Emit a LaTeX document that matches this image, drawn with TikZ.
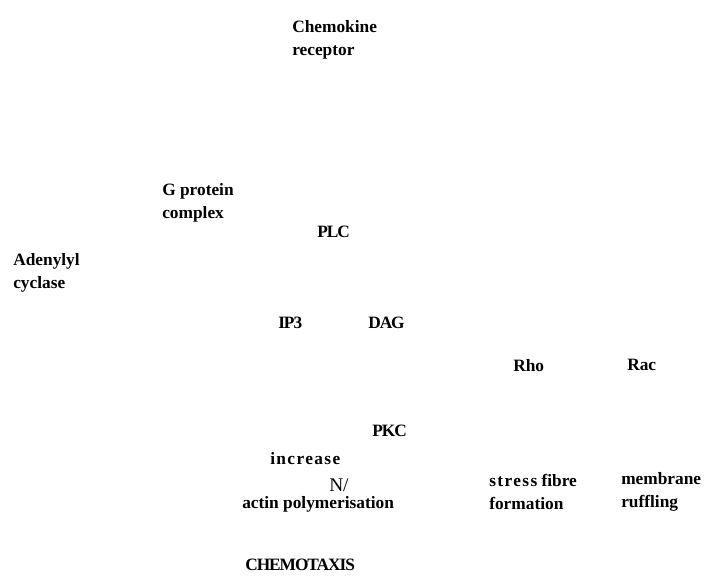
\documentclass[tikz,border=0pt]{standalone}
\usepackage{fontspec}
\setmainfont{Liberation Serif}
\usepackage{tikz}
\usetikzlibrary{positioning}

\begin{document}
\begin{tikzpicture}[x=0.75pt, y=-0.75pt,
  lab/.style={font=\fontsize{13}{17.5}\selectfont\bfseries, inner sep=0pt, align=left, anchor=north west},
  tight/.style={font=\fontsize{13}{17.5}\selectfont\bfseries\addfontfeatures{LetterSpace=-6}, inner sep=0pt, anchor=north west},
  wide/.style={font=\fontsize{13}{17.5}\selectfont\bfseries\addfontfeatures{LetterSpace=8}, inner sep=0pt, anchor=north west}]
\useasboundingbox (0,0) rectangle (707,575);
% receptor and membrane side
\node[lab] (receptor) at (292,20) {Chemokine\\receptor};
\node[lab] (gprot) at (162,183) {G protein\\complex};
\node[tight] (plc) at (317,226) {PLC};
\node[lab] (adenyl) at (13,253) {Adenylyl\\cyclase};
% second messengers
\node[tight] (ip3) at (278,317) {IP3};
\node[tight] (dag) at (368,317) {DAG};
\node[lab] (rho) at (513,359) {Rho};
\node[lab] (rac) at (627,359) {Rac};
\node[tight] (pkc) at (372,425) {PKC};
% responses
\node[wide] (incr) at (270,452) {increase};
\node[font=\fontsize{14.5}{17.5}\selectfont, inner sep=0pt, anchor=north west] (nslash) at (329,478) {N/};
\node[lab] (actin) at (242,496) {actin polymerisation};
\node[lab] (stress) at (489,474) {{\addfontfeatures{LetterSpace=8}stress} fibre\\formation};
\node[lab] (ruffle) at (621,472) {membrane\\ruffling};
\node[tight] (chemo) at (245,559) {CHEMOTAXIS};
\end{tikzpicture}
\end{document}
